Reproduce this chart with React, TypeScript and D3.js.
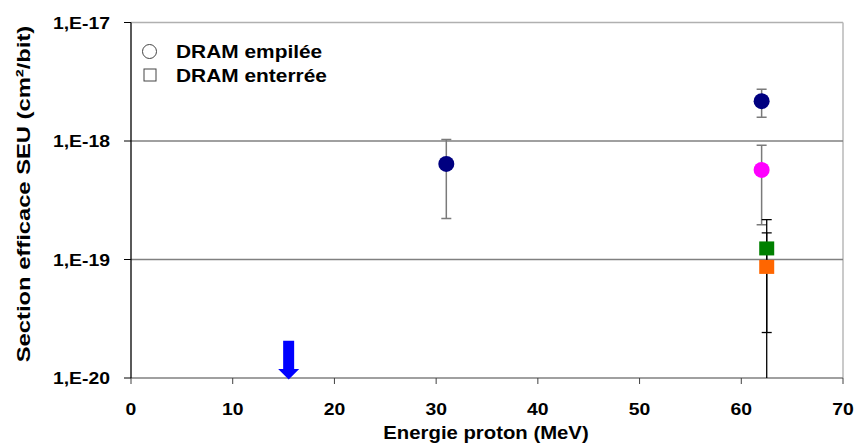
import React from 'react';
import * as d3 from 'd3';

const xTicks = [0, 10, 20, 30, 40, 50, 60, 70];
const yTicks = [1e-17, 1e-18, 1e-19, 1e-20];
const yTickLabels = ['1,E-17', '1,E-18', '1,E-19', '1,E-20'];
const gridValues = [1e-18, 1e-19];

// DRAM empilée (circles)
const stackedEnergy = [31, 62, 62];
const stackedValue = [6.4e-19, 2.17e-18, 5.7e-19];
const stackedLow = [2.22e-19, 1.59e-18, 1.96e-19];
const stackedHigh = [1.03e-18, 2.74e-18, 9.2e-19];
const stackedColor = ['#000080', '#000080', '#FF00FF'];

// DRAM enterrée (squares)
const buriedEnergy = [62.5, 62.5];
const buriedValue = [1.24e-19, 8.66e-20];
const buriedLow = [2.42e-20, 5e-21];
const buriedHigh = [1.68e-19, 2.17e-19];
const buriedColor = ['#008000', '#FF6600'];

// upper limit arrow
const limitEnergy = [15.5];
const limitValue = [2.06e-20];
const limitEnd = [1e-20];

const legendLabels = ['DRAM empilée', 'DRAM enterrée'];

const W = 858;
const H = 444;
const M = { left: 131, right: 843, top: 22.5, bottom: 378 };
const FONT = '"Liberation Sans", Arial, sans-serif';

export default function App() {
  const x = d3.scaleLinear().domain([0, 70]).range([M.left, M.right]);
  const y = d3.scaleLog().domain([1e-20, 1e-17]).range([M.bottom, M.top]);
  const cap = 5;

  return (
    <svg
      width={W}
      height={H}
      style={{ position: 'absolute', left: 0, top: 0, background: '#fff' }}
      fontFamily={FONT}
    >
      <defs>
        <clipPath id="plot">
          <rect x={M.left} y={M.top} width={M.right - M.left} height={M.bottom - M.top} />
        </clipPath>
      </defs>
      <rect x={0} y={0} width={W} height={H} fill="#fff" />

      {/* frame top & right */}
      <line x1={M.left} x2={M.right} y1={M.top} y2={M.top} stroke="#b0b0b0" strokeWidth={1.5} />
      <line x1={M.right} x2={M.right} y1={M.top} y2={M.bottom} stroke="#b8b8b8" strokeWidth={1.5} />

      {/* gridlines */}
      {gridValues.map((v, i) => (
        <line key={i} x1={M.left} x2={M.right} y1={y(v)} y2={y(v)} stroke="#808080" strokeWidth={1.5} />
      ))}

      {/* x axis */}
      <line x1={M.left} x2={M.right} y1={M.bottom} y2={M.bottom} stroke="#808080" strokeWidth={1.5} />
      {xTicks.map((t) => (
        <g key={t}>
          <line x1={x(t)} x2={x(t)} y1={M.bottom} y2={M.bottom + 6} stroke="#404040" strokeWidth={1} />
          <text
            transform={`translate(${x(t)},415) scale(1.14,1)`}
            textAnchor="middle"
            fontSize={17}
            fontWeight="bold"
            fill="#000"
          >
            {t}
          </text>
        </g>
      ))}
      <text
        transform={`translate(${(M.left + M.right) / 2 - 1},439) scale(1.07,1)`}
        textAnchor="middle"
        fontSize={19}
        fontWeight="bold"
      >
        Energie proton (MeV)
      </text>

      {/* y axis */}
      <line x1={M.left} x2={M.left} y1={M.top} y2={M.bottom} stroke="#000" strokeWidth={1.3} />
      {yTicks.map((t, i) => (
        <g key={i}>
          <line x1={M.left - 7} x2={M.left} y1={y(t)} y2={y(t)} stroke="#000" strokeWidth={1} />
          <text
            transform={`translate(110,${y(t) + 6}) scale(1.14,1)`}
            textAnchor="end"
            fontSize={17}
            fontWeight="bold"
          >
            {yTickLabels[i]}
          </text>
        </g>
      ))}
      <text
        transform={`translate(30,194) rotate(-90) scale(1.25,1)`}
        textAnchor="middle"
        fontSize={19}
        fontWeight="bold"
      >
        Section efficace SEU (cm²/bit)
      </text>

      <g clipPath="url(#plot)">
        {/* error bars circles */}
        {stackedEnergy.map((e, i) => (
          <g key={'se' + i} stroke="#7a7a7a" strokeWidth={1.5}>
            <line x1={x(e)} x2={x(e)} y1={y(stackedLow[i])} y2={y(stackedHigh[i])} />
            <line x1={x(e) - cap} x2={x(e) + cap} y1={y(stackedLow[i])} y2={y(stackedLow[i])} />
            <line x1={x(e) - cap} x2={x(e) + cap} y1={y(stackedHigh[i])} y2={y(stackedHigh[i])} />
          </g>
        ))}
        {/* error bars squares */}
        {buriedEnergy.map((e, i) => (
          <g key={'be' + i} stroke="#000" strokeWidth={1.3}>
            <line x1={x(e)} x2={x(e)} y1={y(buriedLow[i])} y2={y(buriedHigh[i])} />
            <line x1={x(e) - cap} x2={x(e) + cap} y1={y(buriedLow[i])} y2={y(buriedLow[i])} />
            <line x1={x(e) - cap} x2={x(e) + cap} y1={y(buriedHigh[i])} y2={y(buriedHigh[i])} />
          </g>
        ))}
        {/* circles */}
        {stackedEnergy.map((e, i) => (
          <circle key={'sc' + i} cx={x(e)} cy={y(stackedValue[i])} r={8} fill={stackedColor[i]} />
        ))}
        {/* squares */}
        {buriedEnergy.map((e, i) => (
          <rect
            key={'bs' + i}
            x={x(e) - 7.5}
            y={y(buriedValue[i]) - 7}
            width={15}
            height={14}
            fill={buriedColor[i]}
          />
        ))}
      </g>

      {/* arrow */}
      {limitEnergy.map((e, i) => {
        const cx = x(e);
        const tip = y(limitEnd[i]) + 1.5;
        const top = y(limitValue[i]);
        const headLen = 10.5;
        const sw = 5.5;
        const hw = 10.5;
        const path = d3.path();
        path.moveTo(cx - sw, top);
        path.lineTo(cx + sw, top);
        path.lineTo(cx + sw, tip - headLen);
        path.lineTo(cx + hw, tip - headLen);
        path.lineTo(cx, tip);
        path.lineTo(cx - hw, tip - headLen);
        path.lineTo(cx - sw, tip - headLen);
        path.closePath();
        return <path key={'a' + i} d={path.toString()} fill="#0000FF" />;
      })}

      {/* legend */}
      <circle cx={149.5} cy={51.5} r={7} fill="#fff" stroke="#444" strokeWidth={1} />
      <rect x={144} y={69} width={12} height={12} fill="#fff" stroke="#444" strokeWidth={1} />
      {legendLabels.map((l, i) => (
        <text
          key={l}
          transform={`translate(176,${57.5 + i * 24.2}) scale(1.13,1)`}
          fontSize={18.5}
          fontWeight="bold"
        >
          {l}
        </text>
      ))}
    </svg>
  );
}
